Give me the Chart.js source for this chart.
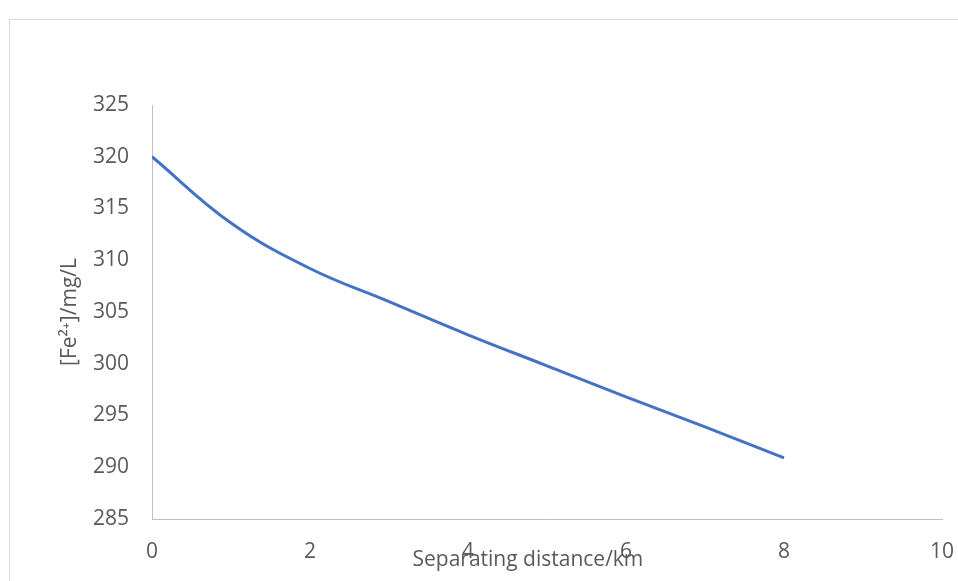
<!DOCTYPE html>
<html>
<head>
<meta charset="utf-8">
<script src="https://cdn.jsdelivr.net/npm/chart.js@4"></script>
<style>
  html, body { margin: 0; padding: 0; background: #fff; overflow: hidden; }
  #wrap { position: relative; width: 958px; height: 581px; }
  #frame { position: absolute; left: 9px; top: 19px; width: 980px; height: 600px; border: 1px solid #d9d9d9; }
  canvas { position: absolute; left: 0; top: 0; }
</style>
</head>
<body>
<div id="wrap">
  <div id="frame"></div>
  <canvas id="fe2Chart" width="958" height="581"></canvas>
</div>
<script>
// distances (km) and Fe2+ concentrations (mg/L)
const distances = [0, 1, 2, 3, 4, 5, 6, 7, 8];
const feValues = [320, 313.6, 309.2, 306, 302.8, 299.8, 296.8, 293.9, 290.9];
const xTicks = [0, 2, 4, 6, 8, 10];
const yTicks = [285, 290, 295, 300, 305, 310, 315, 320, 325];

const fontFamily = '"Open Sans", "Noto Sans", sans-serif';
const textColor = '#595959';
const axisColor = '#bfbfbf';

const points = distances.map((d, i) => ({ x: d, y: feValues[i] }));

// the x title sits a bit left of the plot centre, pad it with trailing spaces
const xTitle = 'Separating distance/km' + '\u00a0'.repeat(7);

const ctx = document.getElementById('fe2Chart').getContext('2d');
const chart = new Chart(ctx, {
    type: 'scatter',
    data: {
        datasets: [{
            label: '[Fe2+]',
            data: points,
            showLine: true,
            borderColor: '#4472C4',
            backgroundColor: '#4472C4',
            borderWidth: 3,
            pointRadius: 0,
            tension: 0.4
        }]
    },
    options: {
        responsive: false,
        animation: false,
        layout: { padding: { top: 105, right: 16, left: 0, bottom: 0 } },
        plugins: {
            legend: { display: false },
            tooltip: { enabled: false }
        },
        scales: {
            x: {
                type: 'linear',
                min: xTicks[0],
                max: xTicks[xTicks.length - 1],
                afterBuildTicks: axis => { axis.ticks = xTicks.map(v => ({ value: v })); },
                afterFit: axis => {
                    axis.height = 62;
                    axis.paddingLeft = 0;
                    axis.paddingRight = 0;
                },
                grid: { drawOnChartArea: false, drawTicks: false },
                border: { color: axisColor, width: 1 },
                ticks: { color: textColor, padding: 20, font: { family: fontFamily, size: 21 } },
                title: {
                    display: true,
                    text: xTitle,
                    color: textColor,
                    font: { family: fontFamily, size: 21 },
                    padding: { top: 0, bottom: 8 }
                }
            },
            y: {
                type: 'linear',
                min: yTicks[0],
                max: yTicks[yTicks.length - 1],
                afterBuildTicks: axis => { axis.ticks = yTicks.map(v => ({ value: v })); },
                afterFit: axis => {
                    axis.width = 152;
                    axis.paddingTop = 0;
                    axis.paddingBottom = 0;
                },
                grid: { drawOnChartArea: false, drawTicks: false },
                border: { color: axisColor, width: 1 },
                ticks: { color: textColor, padding: 23, font: { family: fontFamily, size: 21 } },
                title: {
                    display: true,
                    text: '[Fe²⁺]/mg/L',
                    color: textColor,
                    font: { family: fontFamily, size: 21 },
                    padding: { top: 57, bottom: 0 }
                }
            }
        }
    }
});
</script>
</body>
</html>
